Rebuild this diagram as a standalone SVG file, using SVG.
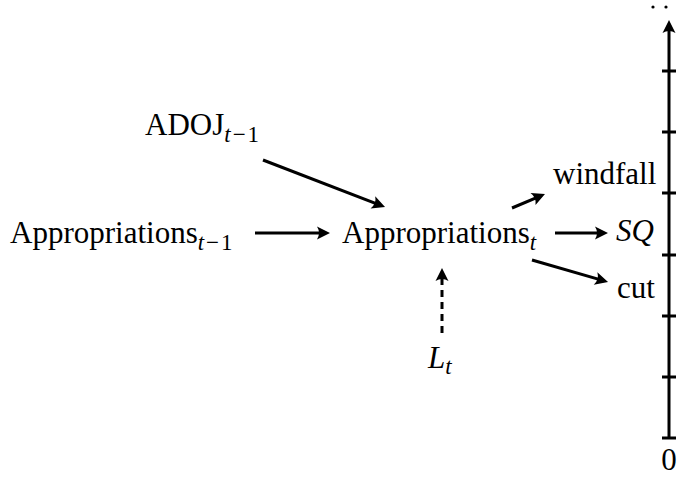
<svg xmlns="http://www.w3.org/2000/svg" width="678" height="478" viewBox="0 0 678 478">
  <style>
    .edge { stroke: #000; stroke-width: 3; fill: none; marker-end: url(#head); }
    .dash { stroke-dasharray: 7 5; }
    .tick { stroke: #000; stroke-width: 3; fill: none; }
  </style>
  <defs>
    <marker id="head" markerUnits="userSpaceOnUse" viewBox="-12 -8 18 16" markerWidth="18" markerHeight="16" refX="0" refY="0" orient="auto">
      <path d="M4,0 L-9,-6.5 Q-5,0 -9,6.5 Z" fill="#000"/>
    </marker>
  </defs>

  <g font-family="Liberation Serif, serif" font-size="31" fill="#000">
    <!-- nodes -->
    <g id="approp-prev">
      <text x="10" y="243">Appropriations<tspan font-size="23" font-style="italic" dy="7">t</tspan><tspan font-size="23" dx="2">−</tspan><tspan font-size="23" dx="2">1</tspan></text>
    </g>
    <g id="adoj">
      <text x="145" y="135">ADOJ<tspan font-size="23" font-style="italic" dy="7">t</tspan><tspan font-size="23" dx="2">−</tspan><tspan font-size="23" dx="2">1</tspan></text>
    </g>
    <g id="approp">
      <text x="342" y="243">Appropriations<tspan font-size="23" font-style="italic" dy="7">t</tspan></text>
    </g>
    <g id="lt">
      <text x="428" y="368" font-style="italic">L<tspan font-size="23" dy="6">t</tspan></text>
    </g>
    <g id="windfall">
      <text x="553" y="184">windfall</text>
    </g>
    <g id="sq">
      <text x="616" y="241" font-style="italic">SQ</text>
    </g>
    <g id="cut">
      <text x="617" y="298">cut</text>
    </g>

    <!-- vertical scale with ticks -->
    <g id="scale">
      <line class="edge" x1="669" y1="439" x2="669" y2="24"/>
      <path class="tick" d="M662,438H676M662,377H676M662,316H676M662,255H676M662,193H676M662,132H676M662,71H676"/>
      <circle cx="653" cy="7" r="1.6"/>
      <circle cx="666" cy="7" r="1.6"/>
      <text x="669" y="470" text-anchor="middle">0</text>
    </g>
  </g>

  <!-- connectors -->
  <g id="connectors">
    <line class="edge" x1="255" y1="233" x2="326" y2="233"/>
    <line class="edge" x1="263" y1="160" x2="381.3" y2="205.6"/>
    <line class="edge" x1="512" y1="208" x2="541.3" y2="195.6"/>
    <line class="edge" x1="555" y1="233" x2="604" y2="233"/>
    <line class="edge" x1="532" y1="260" x2="604.2" y2="280.9"/>
    <line class="edge dash" x1="442" y1="333" x2="442" y2="272"/>
  </g>
</svg>
